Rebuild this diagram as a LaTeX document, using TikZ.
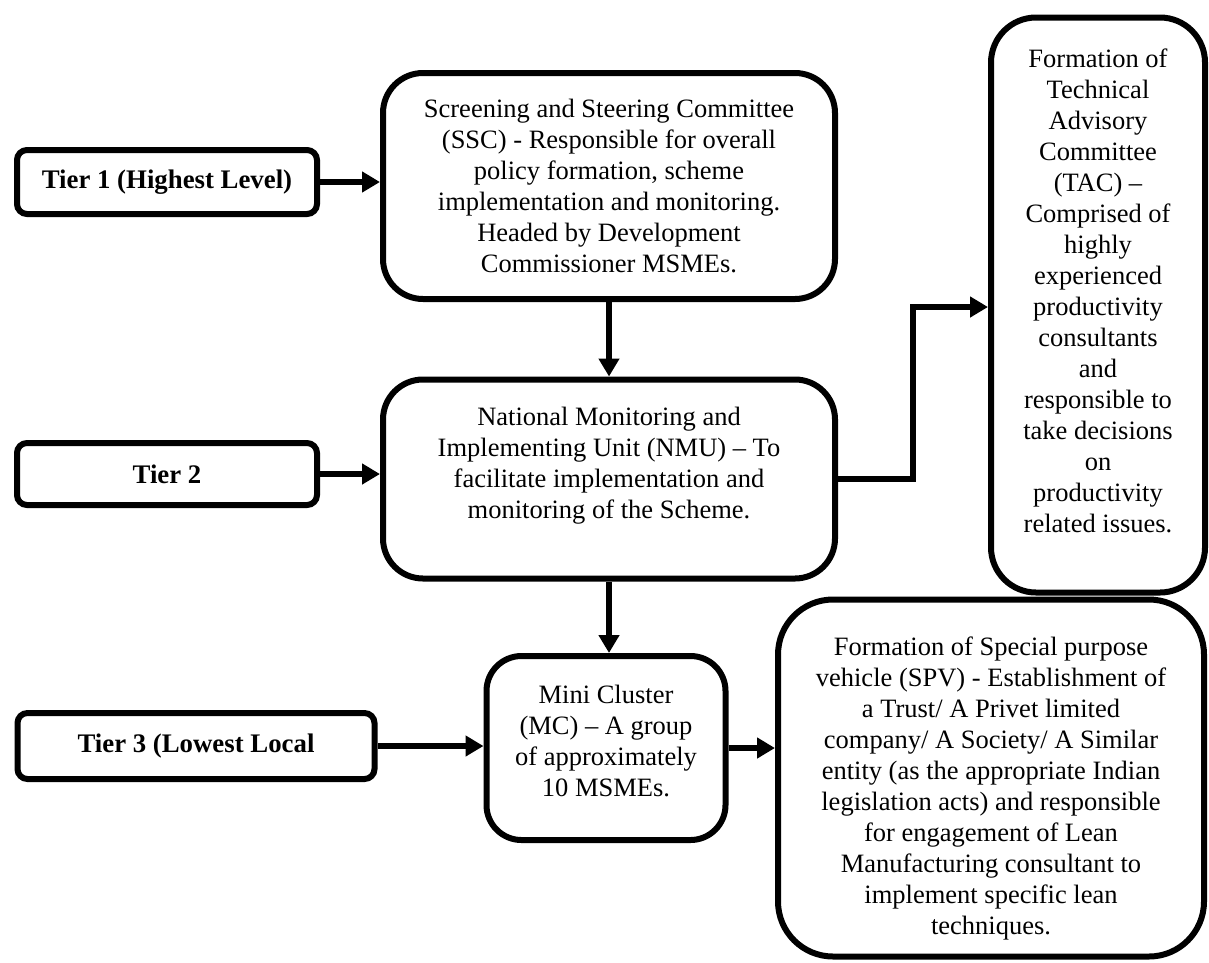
\documentclass[tikz,border=0pt]{standalone}
\usepackage{fontspec}
\setmainfont{Liberation Serif}
\usetikzlibrary{arrows.meta}
\begin{document}
\begin{tikzpicture}[x=1pt,y={(0pt,-1pt)},
  tier/.style={draw,line width=6pt,rounded corners=10pt,inner sep=0pt,align=center,font=\fontsize{26.8}{31}\selectfont\bfseries},
  box/.style={draw,line width=6pt,inner sep=0pt,align=center,font=\fontsize{26.5}{31}\selectfont},
  arr/.style={line width=6pt,-{Triangle[length=18pt,width=20pt]}}]
  \useasboundingbox (0,0) rectangle (1209,962);

  \node[tier,minimum width=300pt,minimum height=64pt] (tier1) at (167,182) {Tier 1 (Highest Level)};
  \node[tier,minimum width=300pt,minimum height=62pt] (tier2) at (167,474) {Tier 2};
  \node[tier,minimum width=357pt,minimum height=66pt] (tier3) at (196,746) {Tier 3 (Lowest Local};

  \node[box,rounded corners=40pt,minimum width=452pt,minimum height=226pt] (ssc) at (609,186)
    {Screening and Steering Committee\\(SSC) - Responsible for overall\\policy formation, scheme\\implementation and monitoring.\\Headed by Development\\Commissioner MSMEs.};
  \node[box,rounded corners=40pt,minimum width=452pt,minimum height=199pt,text depth=32pt] (nmu) at (609,479)
    {National Monitoring and\\Implementing Unit (NMU) -- To\\facilitate implementation and\\monitoring of the Scheme.};
  \node[box,rounded corners=35pt,minimum width=239pt,minimum height=184pt,text depth=14pt] (mc) at (606,748)
    {Mini Cluster\\(MC) -- A group\\of approximately\\10 MSMEs.};
  \node[box,rounded corners=45pt,minimum width=214pt,minimum height=575pt,text depth=28pt] (tac) at (1098,305)
    {Formation of\\Technical\\Advisory\\Committee\\(TAC) --\\Comprised of\\highly\\experienced\\productivity\\consultants\\and\\responsible to\\take decisions\\on\\productivity\\related issues.};
  \node[box,rounded corners=55pt,minimum width=426pt,minimum height=357pt,text height=319pt] (spv) at (991,778)
    {Formation of Special purpose\\vehicle (SPV) - Establishment of\\a Trust/ A Privet limited\\company/ A Society/ A Similar\\entity (as the appropriate Indian\\legislation acts) and responsible\\for engagement of Lean\\Manufacturing consultant to\\implement specific lean\\techniques.};

  \coordinate (bend) at (913,307);

  \draw[arr] (tier1.east) -- (tier1.east -| ssc.west);
  \draw[arr] (tier2.east) -- (tier2.east -| nmu.west);
  \draw[arr] (tier3.east) -- (tier3.east -| mc.west);
  \draw[arr] (ssc.south) -- (nmu.north);
  \draw[arr] (nmu.south) -- (nmu.south |- mc.north);
  \draw[arr] (mc.east) -- (mc.east -| spv.west);
  \draw[arr] (nmu.east) -| (bend) -- (bend -| tac.west);
\end{tikzpicture}
\end{document}
